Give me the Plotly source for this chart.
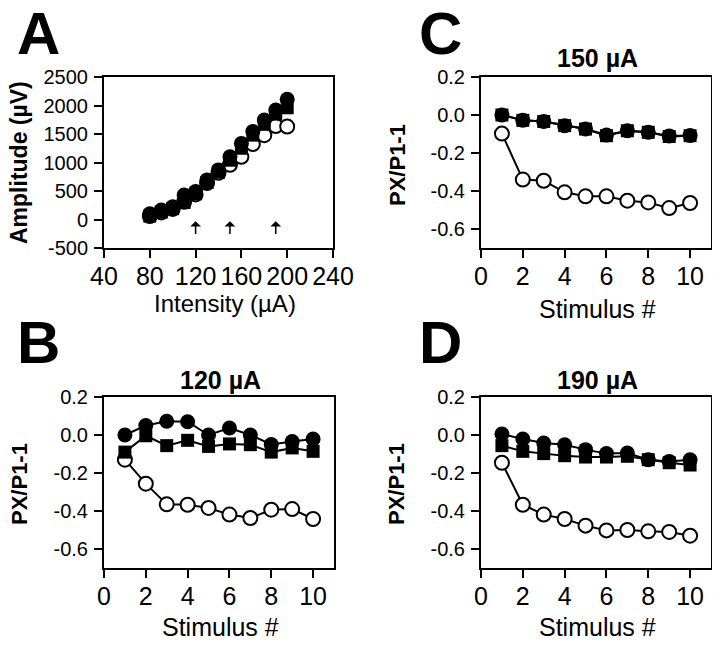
import plotly.graph_objects as go

# ---------------- data ----------------
# Panel A: amplitude vs intensity
intensity = [80, 90, 100, 110, 120, 130, 140, 150, 160, 170, 180, 190, 200]
amp_filled_circle = [100, 165, 225, 430, 490, 695, 870, 1100, 1335, 1545, 1745, 1920, 2110]
amp_filled_square = [60, 130, 190, 300, 450, 650, 830, 1040, 1250, 1480, 1670, 1850, 1960]
amp_open_circle = [60, 125, 185, 310, 440, 640, 820, 960, 1100, 1325, 1480, 1640, 1630]
arrow_intensities = [120, 150, 190]

stimulus = [1, 2, 3, 4, 5, 6, 7, 8, 9, 10]

# Panel B: 120 uA
b_filled_circle = [0.0, 0.05, 0.072, 0.07, 0.0, 0.037, 0.0, -0.05, -0.034, -0.021]
b_filled_square = [-0.09, -0.004, -0.056, -0.028, -0.06, -0.047, -0.051, -0.09, -0.068, -0.086]
b_open_circle = [-0.13, -0.256, -0.365, -0.367, -0.384, -0.419, -0.437, -0.393, -0.39, -0.442]

# Panel C: 150 uA
c_filled_circle = [0.0, -0.028, -0.034, -0.056, -0.074, -0.105, -0.083, -0.091, -0.11, -0.108]
c_filled_square = [0.0, -0.028, -0.034, -0.056, -0.074, -0.109, -0.083, -0.091, -0.113, -0.109]
c_open_circle = [-0.098, -0.34, -0.346, -0.407, -0.428, -0.428, -0.451, -0.46, -0.49, -0.463]

# Panel D: 190 uA
d_filled_circle = [0.005, -0.021, -0.042, -0.051, -0.077, -0.098, -0.095, -0.13, -0.139, -0.13]
d_filled_square = [-0.056, -0.086, -0.098, -0.109, -0.116, -0.116, -0.112, -0.13, -0.146, -0.158]
d_open_circle = [-0.146, -0.367, -0.419, -0.442, -0.477, -0.502, -0.5, -0.507, -0.51, -0.53]

amp_ticks = [-500, 0, 500, 1000, 1500, 2000, 2500]
amp_ticktext = ["-500", "0", "500", "1000", "1500", "2000", "2500"]
int_ticks = [40, 80, 120, 160, 200, 240]
ratio_ticks = [-0.6, -0.4, -0.2, 0.0, 0.2]
ratio_ticktext = ["-0.6", "-0.4", "-0.2", "0.0", "0.2"]
stim_ticks = [0, 2, 4, 6, 8, 10]

# the page body has an 8px margin: figure is drawn 8px in from the top-left
OFF = 8
W, H = 720 - OFF, 648 - OFF
FONT = "Liberation Sans, Arial, sans-serif"

# pixel boxes in the page (left, top, right, bottom)
boxes = {
    "A": (104, 77, 333, 248),
    "C": (481, 77, 711, 248),
    "B": (104, 397, 334, 568),
    "D": (481, 397, 711, 568),
}

def px(x):
    return (x - OFF) / W

def py(y):
    return 1 - (y - OFF) / H

def dom(box):
    l, t, r, b = box
    return [px(l), px(r)], [py(b), py(t)]

fig = go.Figure()

def add_series(xs, ys, xa, ya, kind, lines=True):
    if kind == "open":
        marker = dict(symbol="circle", size=14, color="white", line=dict(color="black", width=2))
    elif kind == "circle":
        marker = dict(symbol="circle", size=15, color="black", line=dict(color="black", width=0))
    else:
        marker = dict(symbol="square", size=13, color="black", line=dict(color="black", width=0))
    fig.add_trace(go.Scatter(
        x=xs, y=ys, xaxis=xa, yaxis=ya,
        mode="lines+markers" if lines else "markers",
        line=dict(color="black", width=2),
        marker=marker, showlegend=False, hoverinfo="skip", cliponaxis=False))

# Panel A
add_series(intensity, amp_open_circle, "x", "y", "open", lines=False)
add_series(intensity, amp_filled_square, "x", "y", "square", lines=False)
add_series(intensity, amp_filled_circle, "x", "y", "circle", lines=False)
# Panel C
add_series(stimulus, c_open_circle, "x2", "y2", "open")
add_series(stimulus, c_filled_circle, "x2", "y2", "circle")
add_series(stimulus, c_filled_square, "x2", "y2", "square")
# Panel B
add_series(stimulus, b_open_circle, "x3", "y3", "open")
add_series(stimulus, b_filled_circle, "x3", "y3", "circle")
add_series(stimulus, b_filled_square, "x3", "y3", "square")
# Panel D
add_series(stimulus, d_open_circle, "x4", "y4", "open")
add_series(stimulus, d_filled_circle, "x4", "y4", "circle")
add_series(stimulus, d_filled_square, "x4", "y4", "square")

axis_common = dict(showline=True, linecolor="black", linewidth=2, mirror=True,
                   ticks="outside", ticklen=8, tickwidth=2, tickcolor="black",
                   showgrid=False, zeroline=False, fixedrange=True, automargin=False)

layout = dict(
    width=W, height=H, margin=dict(l=0, r=0, t=0, b=0, autoexpand=False),
    paper_bgcolor="white", plot_bgcolor="white",
    font=dict(family=FONT, color="black"),
)

panels = [("A", "", "x", "y"), ("C", "2", "x2", "y2"), ("B", "3", "x3", "y3"), ("D", "4", "x4", "y4")]
for name, suf, xa, ya in panels:
    xd, yd = dom(boxes[name])
    if name == "A":
        xax = dict(range=[40, 240], tickvals=int_ticks, domain=xd, anchor=ya,
                   tickfont=dict(size=25, family=FONT), ticklabelstandoff=-3, **axis_common)
        yax = dict(range=[-500, 2500], tickvals=amp_ticks, ticktext=amp_ticktext, domain=yd,
                   anchor=xa, tickfont=dict(size=20, family=FONT), ticklabelstandoff=2, **axis_common)
    else:
        xax = dict(range=[0, 11], tickvals=stim_ticks, domain=xd, anchor=ya,
                   tickfont=dict(size=25, family=FONT), ticklabelstandoff=-3, **axis_common)
        yax = dict(range=[-0.7, 0.2], tickvals=ratio_ticks, ticktext=ratio_ticktext, domain=yd,
                   anchor=xa, tickfont=dict(size=20, family=FONT), ticklabelstandoff=2, **axis_common)
    layout["xaxis" + suf] = xax
    layout["yaxis" + suf] = yax

fig.update_layout(**layout)

def txt(x, y, s, size, bold=False, angle=0):
    fig.add_annotation(x=px(x), y=py(y), xref="paper", yref="paper", text=("<b>%s</b>" % s) if bold else s,
                       showarrow=False, xanchor="center", yanchor="middle", textangle=angle,
                       font=dict(size=size, family=FONT, color="black"))

# panel letters
txt(38, 33, "A", 60, bold=True)
txt(440, 33, "C", 60, bold=True)
txt(38, 342, "B", 60, bold=True)
txt(441, 342, "D", 60, bold=True)

# panel titles
txt(597, 58, "150 µA", 25, bold=True)
txt(220, 380, "120 µA", 25, bold=True)
txt(597, 380, "190 µA", 25, bold=True)

# x axis titles
txt(225, 303, "Intensity (µA)", 24)
txt(597, 309, "Stimulus #", 25)
txt(220, 627, "Stimulus #", 25)
txt(597, 627, "Stimulus #", 25)

# y axis titles
txt(19, 163, "Amplitude (µV)", 23, bold=True, angle=-90)
txt(397, 165, "PX/P1-1", 22, bold=True, angle=-90)
txt(19, 484, "PX/P1-1", 22, bold=True, angle=-90)
txt(396, 484, "PX/P1-1", 22, bold=True, angle=-90)

# arrows in panel A
for xi in arrow_intensities:
    fig.add_annotation(x=xi, y=-30, xref="x", yref="y", ax=xi, ay=-280, axref="x", ayref="y",
                       showarrow=True, arrowhead=1, arrowsize=1.2, arrowwidth=1.5, arrowcolor="black", text="")

fig.write_html("out.html")
